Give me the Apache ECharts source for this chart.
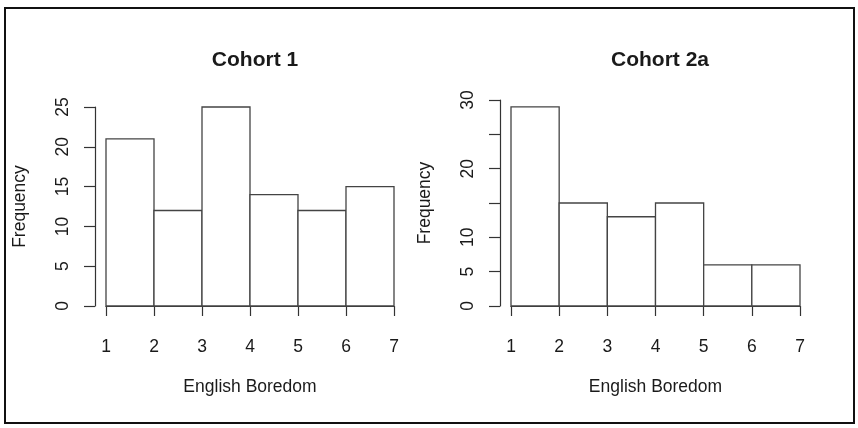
<!DOCTYPE html>
<html>
<head>
<meta charset="utf-8">
<script src="https://cdn.jsdelivr.net/npm/echarts@6/dist/echarts.min.js"></script>
<style>html,body{margin:0;padding:0;background:#fff}#c{width:858px;height:428px}</style>
</head>
<body>
<div id="c"></div>
<script>
const titles = ['Cohort 1', 'Cohort 2a'];
const binStarts = [1, 2, 3, 4, 5, 6];
const binEnds = [2, 3, 4, 5, 6, 7];
const counts1 = [21, 12, 25, 14, 12, 15];
const counts2 = [29, 15, 13, 15, 6, 6];
const xTickLabels = ['1', '2', '3', '4', '5', '6', '7'];
const yTickLabels1 = ['0', '5', '10', '15', '20', '25'];
const yTickLabels2 = ['0', '5', '10', '', '20', '', '30'];
const xName = 'English Boredom';
const yName = 'Frequency';

const FONT = 'Liberation Sans, Arial, sans-serif';
const LINE = '#333';
const TXT = '#1a1a1a';

function renderBar(params, api) {
  const x0 = api.value(0), x1 = api.value(1), y = api.value(2);
  const p0 = api.coord([x0, 0]);
  const p1 = api.coord([x1, y]);
  return {
    type: 'rect',
    shape: { x: p0[0], y: p1[1], width: p1[0] - p0[0], height: p0[1] - p1[1] },
    style: { fill: '#fff', stroke: '#444', lineWidth: 1.3 }
  };
}

function xAxis(gi) {
  return {
    type: 'value', gridIndex: gi, min: 1, max: 7, interval: 1, offset: 8,
    name: xName, nameLocation: 'middle', nameGap: 64,
    nameTextStyle: { fontFamily: FONT, fontSize: 17.5, color: TXT },
    axisLine: { show: true, lineStyle: { color: LINE, width: 1.2 } },
    axisTick: { show: true, length: 10, lineStyle: { color: LINE, width: 1.2 } },
    axisLabel: { margin: 24, fontFamily: FONT, fontSize: 17.5, color: TXT,
      formatter: v => xTickLabels[v - 1] },
    splitLine: { show: false }
  };
}
function yAxis(gi, max, labels) {
  return {
    type: 'value', gridIndex: gi, min: 0, max: max, interval: 5, offset: 11,
    name: yName, nameLocation: 'middle', nameGap: 66, nameRotate: 90,
    nameTextStyle: { fontFamily: FONT, fontSize: 17.5, color: TXT },
    axisLine: { show: true, lineStyle: { color: LINE, width: 1.2 } },
    axisTick: { show: true, length: 11, lineStyle: { color: LINE, width: 1.2 } },
    axisLabel: { margin: 23, rotate: 90, fontFamily: FONT, fontSize: 17.5, color: TXT,
      formatter: v => labels[v / 5] },
    splitLine: { show: false }
  };
}

const chart = echarts.init(document.getElementById('c'));
chart.setOption({
  animation: false,
  backgroundColor: '#fff',
  title: [
    { text: titles[0], left: 250, top: 45, textAlign: 'center',
      textStyle: { fontFamily: FONT, fontSize: 21, fontWeight: 'bold', color: TXT } },
    { text: titles[1], left: 655, top: 45, textAlign: 'center',
      textStyle: { fontFamily: FONT, fontSize: 21, fontWeight: 'bold', color: TXT } }
  ],
  grid: [
    { left: 106, right: 464, top: 107, bottom: 122 },
    { left: 511, right: 58, top: 100, bottom: 122 }
  ],
  xAxis: [xAxis(0), xAxis(1)],
  yAxis: [yAxis(0, 25, yTickLabels1), yAxis(1, 30, yTickLabels2)],
  series: [
    { type: 'custom', xAxisIndex: 0, yAxisIndex: 0, renderItem: renderBar,
      encode: { x: [0, 1], y: 2 },
      data: binStarts.map((s, i) => [s, binEnds[i], counts1[i]]) },
    { type: 'custom', xAxisIndex: 1, yAxisIndex: 1, renderItem: renderBar,
      encode: { x: [0, 1], y: 2 },
      data: binStarts.map((s, i) => [s, binEnds[i], counts2[i]]) }
  ],
  graphic: [
    { type: 'rect', shape: { x: 5, y: 8, width: 849, height: 415 },
      style: { fill: null, stroke: '#111', lineWidth: 2 }, silent: true }
  ]
});
</script>
</body>
</html>
